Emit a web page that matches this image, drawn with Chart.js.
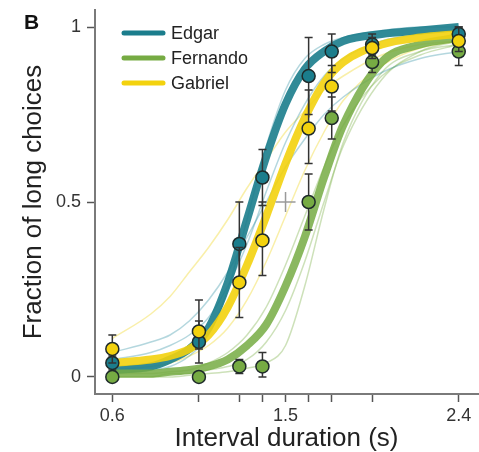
<!DOCTYPE html>
<html>
<head>
<meta charset="utf-8">
<script src="https://cdn.jsdelivr.net/npm/chart.js@4/dist/chart.umd.min.js"></script>
<style>
  html, body { margin: 0; padding: 0; background: #fff; }
  #wrap { width: 479px; height: 452px; position: relative; }
</style>
</head>
<body>
<div id="wrap"><canvas id="myChart" width="479" height="452"></canvas></div>
<script>
// stimulus durations (s) and observed fractions of "long" choices
var stimX = [0.6, 1.05, 1.26, 1.38, 1.62, 1.74, 1.95, 2.4];

var edgarP   = [0.04, 0.10, 0.38, 0.57, 0.86, 0.93, 0.95, 0.98];
var edgarLo  = [0.02, 0.04, 0.26, 0.49, 0.75, 0.87, 0.92, 0.96];
var edgarHi  = [0.06, 0.16, 0.50, 0.65, 0.97, 0.98, 0.98, 1.00];

var fernandoP  = [0.00, 0.00, 0.03, 0.03, 0.50, 0.74, 0.90, 0.93];
var fernandoLo = [0.00, 0.00, 0.01, 0.00, 0.42, 0.68, 0.87, 0.89];
var fernandoHi = [0.01, 0.01, 0.05, 0.07, 0.58, 0.80, 0.93, 0.96];

var gabrielP  = [0.08, 0.13, 0.27, 0.39, 0.71, 0.83, 0.94, 0.96];
var gabrielLo = [0.04, 0.08, 0.17, 0.29, 0.61, 0.76, 0.91, 0.93];
var gabrielHi = [0.12, 0.22, 0.37, 0.50, 0.82, 0.89, 0.97, 1.00];

// fitted curves at these durations
var curveX = [0.6, 0.8, 0.9, 1.0, 1.1, 1.2, 1.3, 1.4, 1.5, 1.6, 1.7, 1.8, 2.0, 2.2, 2.4];

var edgarFit    = [0.02, 0.03, 0.05, 0.08, 0.14, 0.27, 0.45, 0.63, 0.78, 0.88, 0.93, 0.96, 0.98, 0.99, 1.00];
var fernandoFit = [0.01, 0.01, 0.015, 0.02, 0.03, 0.05, 0.09, 0.15, 0.26, 0.40, 0.57, 0.72, 0.90, 0.95, 0.97];
var gabrielFit  = [0.04, 0.05, 0.06, 0.08, 0.12, 0.20, 0.32, 0.46, 0.61, 0.74, 0.84, 0.90, 0.95, 0.97, 0.98];

// a few thin bootstrap fits
var edgarBoot = [
  [0.07, 0.10, 0.12, 0.16, 0.22, 0.30, 0.40, 0.50, 0.60, 0.68, 0.75, 0.80, 0.87, 0.91, 0.93],
  [0.01, 0.02, 0.03, 0.06, 0.12, 0.25, 0.45, 0.66, 0.82, 0.91, 0.95, 0.97, 0.99, 1.00, 1.00],
  [0.05, 0.07, 0.09, 0.12, 0.17, 0.26, 0.38, 0.53, 0.67, 0.78, 0.86, 0.91, 0.96, 0.98, 0.99]
];
var fernandoBoot = [
  [0.00, 0.00, 0.00, 0.005, 0.01, 0.015, 0.025, 0.04, 0.09, 0.26, 0.48, 0.67, 0.87, 0.93, 0.95],
  [0.01, 0.01, 0.015, 0.02, 0.04, 0.07, 0.12, 0.20, 0.32, 0.46, 0.60, 0.72, 0.86, 0.92, 0.95],
  [0.00, 0.00, 0.01, 0.01, 0.02, 0.03, 0.05, 0.10, 0.19, 0.33, 0.50, 0.66, 0.85, 0.93, 0.96]
];
var gabrielBoot = [
  [0.11, 0.18, 0.23, 0.30, 0.37, 0.45, 0.54, 0.62, 0.70, 0.76, 0.82, 0.86, 0.92, 0.95, 0.96],
  [0.02, 0.03, 0.04, 0.06, 0.09, 0.14, 0.22, 0.33, 0.46, 0.59, 0.70, 0.79, 0.89, 0.94, 0.96]
];

var xTicks = [0.6, 1.05, 1.26, 1.38, 1.5, 1.62, 1.74, 1.95, 2.4];
var xLabels = ['0.6', '1.5', '2.4'];
var yTicks = [0, 0.5, 1];

var names = ['Edgar', 'Fernando', 'Gabriel'];
var colors = ['#1b7d8c', '#76ab43', '#f3d20e'];
var bands = ['rgba(27,125,140,0.9)', 'rgba(118,171,67,0.85)', 'rgba(243,210,14,0.9)'];
var light = ['rgba(40,140,160,0.35)', 'rgba(130,180,80,0.40)', 'rgba(240,215,40,0.40)'];

function pts(xs, ys) {
  return xs.map(function(x, i) { return { x: x, y: ys[i] }; });
}

var datasets = [];

// thin curves under everything
[edgarBoot, fernandoBoot, gabrielBoot].forEach(function(list, k) {
  list.forEach(function(ys) {
    datasets.push({
      type: 'scatter', data: pts(curveX, ys), showLine: true,
      borderColor: light[k], borderWidth: 1.5, pointRadius: 0,
      cubicInterpolationMode: 'monotone', order: 40
    });
  });
});

// thick fitted curves
[edgarFit, fernandoFit, gabrielFit].forEach(function(ys, k) {
  datasets.push({
    type: 'scatter', data: pts(curveX, ys), showLine: true,
    borderColor: bands[k], borderWidth: 8, pointRadius: 0,
    cubicInterpolationMode: 'monotone', order: 30 - k
  });
});

// bisection point marker
datasets.push({
  type: 'scatter', data: [{ x: 1.5, y: 0.5 }],
  pointStyle: 'cross', pointRadius: 10, borderColor: '#9a9a9a',
  borderWidth: 1.5, order: 15
});

// observed points with error bars
[[edgarP, edgarLo, edgarHi], [fernandoP, fernandoLo, fernandoHi], [gabrielP, gabrielLo, gabrielHi]].forEach(function(s, k) {
  datasets.push({
    type: 'scatter', data: pts(stimX, s[0]),
    errLo: s[1], errHi: s[2],
    backgroundColor: colors[k], borderColor: '#1e2a2a', borderWidth: 1.5,
    pointRadius: 6.5, order: 3 - k
  });
});

var errorBars = {
  id: 'errorBars',
  beforeDatasetDraw: function(chart, args) {
    var ds = chart.data.datasets[args.index];
    if (!ds.errLo) return;
    var ctx = chart.ctx, xs = chart.scales.x, ys = chart.scales.y;
    ctx.save();
    ctx.strokeStyle = '#333';
    ctx.lineWidth = 1.5;
    ds.data.forEach(function(p, i) {
      var px = xs.getPixelForValue(p.x);
      var lo = ys.getPixelForValue(ds.errLo[i]);
      var hi = ys.getPixelForValue(ds.errHi[i]);
      ctx.beginPath();
      ctx.moveTo(px, lo); ctx.lineTo(px, hi);
      ctx.moveTo(px - 4, lo); ctx.lineTo(px + 4, lo);
      ctx.moveTo(px - 4, hi); ctx.lineTo(px + 4, hi);
      ctx.stroke();
    });
    ctx.restore();
  }
};

var legendAndLabel = {
  id: 'legendAndLabel',
  afterDatasetsDraw: function(chart) {
    var ctx = chart.ctx, a = chart.chartArea;
    ctx.save();
    ctx.font = '18px "Liberation Sans", Arial, sans-serif';
    ctx.textBaseline = 'middle';
    ctx.lineCap = 'round';
    names.forEach(function(n, k) {
      var y = a.top + 23 + k * 25;
      ctx.strokeStyle = colors[k];
      ctx.lineWidth = 5;
      ctx.beginPath();
      ctx.moveTo(a.left + 29, y); ctx.lineTo(a.left + 68, y);
      ctx.stroke();
      ctx.fillStyle = '#222';
      ctx.fillText(n, a.left + 76, y + 1);
    });
    ctx.font = 'bold 21px "Liberation Sans", Arial, sans-serif';
    ctx.textBaseline = 'alphabetic';
    ctx.fillStyle = '#111';
    ctx.fillText('B', 24, 29);
    ctx.restore();
  }
};

var config = {
  type: 'scatter',
  data: { datasets: datasets },
  plugins: [errorBars, legendAndLabel],
  options: {
    responsive: false,
    animation: false,
    layout: { autoPadding: false, padding: { top: 10, right: 1, left: 0, bottom: 0 } },
    plugins: { legend: { display: false }, tooltip: { enabled: false } },
    scales: {
      x: {
        type: 'linear', min: 0.51, max: 2.5,
        afterFit: function(s) { s.height = 58; s.paddingLeft = 0; s.paddingRight = 0; },
        afterBuildTicks: function(s) { s.ticks = xTicks.map(function(v) { return { value: v }; }); },
        ticks: {
          autoSkip: false, maxRotation: 0, padding: 3, color: '#333',
          font: { size: 18, family: '"Liberation Sans", Arial, sans-serif' },
          callback: function(v) {
            var t = String(v);
            return xLabels.indexOf(t) >= 0 ? t : '';
          }
        },
        grid: { drawOnChartArea: false, tickLength: 8, tickColor: '#555', tickWidth: 1.5 },
        border: { color: '#7a7a7a', width: 2 },
        title: {
          display: true, text: 'Interval duration (s)', color: '#222',
          font: { size: 26, lineHeight: 1.0, family: '"Liberation Sans", Arial, sans-serif' },
          padding: { top: 0, bottom: 0 }
        }
      },
      y: {
        type: 'linear', min: -0.0486, max: 1.0486,
        afterFit: function(s) { s.width = 95; s.paddingTop = 0; s.paddingBottom = 0; },
        afterBuildTicks: function(s) { s.ticks = yTicks.map(function(v) { return { value: v }; }); },
        ticks: {
          padding: 6, color: '#333',
          font: { size: 18, family: '"Liberation Sans", Arial, sans-serif' },
          callback: function(v) { return String(v); }
        },
        grid: { drawOnChartArea: false, tickLength: 8, tickColor: '#555', tickWidth: 1.5 },
        border: { color: '#7a7a7a', width: 2 },
        title: {
          display: true, text: 'Fraction of long choices', color: '#222',
          font: { size: 26, family: '"Liberation Sans", Arial, sans-serif' },
          padding: { top: 18, bottom: 0 }
        }
      }
    }
  }
};

var can = document.getElementById('myChart');
var ctx = can.getContext('2d');
var myChart = new Chart(ctx, config);
</script>
</body>
</html>
